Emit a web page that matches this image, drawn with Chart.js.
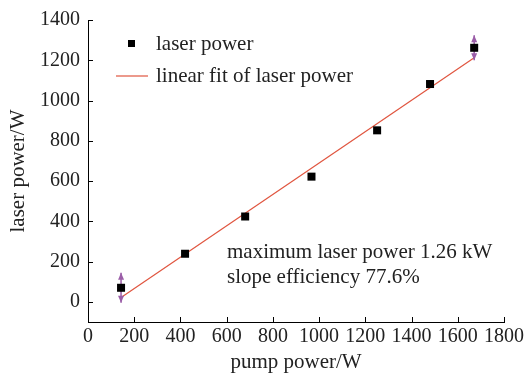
<!DOCTYPE html>
<html>
<head>
<meta charset="utf-8">
<script src="https://cdn.jsdelivr.net/npm/chart.js@4/dist/chart.umd.min.js"></script>
<style>
html,body{margin:0;padding:0;background:#fff;}
#wrap{width:528px;height:375px;position:relative;}
</style>
</head>
<body>
<div id="wrap"><canvas id="c" width="528" height="375"></canvas></div>
<script>
// ---- data ----
const pumpPower  = [143, 420, 680, 967, 1251, 1480, 1671];
const laserPower = [70, 239, 424, 622, 852, 1082, 1262];
const errPlus    = [75, 0, 0, 0, 0, 0, 62];
const errMinus   = [75, 0, 0, 0, 0, 0, 62];
const fitX = [143, 1671];
const fitY = [22, 1212];
const xTicks = [0, 200, 400, 600, 800, 1000, 1200, 1400, 1600, 1800];
const yTicks = [0, 200, 400, 600, 800, 1000, 1200, 1400];
const legendLabels = ['laser power', 'linear fit of laser power'];
const noteLines = ['maximum laser power 1.26 kW', 'slope efficiency 77.6%'];
const xTitle = 'pump power/W';
const yTitle = 'laser power/W';

const FONT = "'Liberation Serif', 'Times New Roman', serif";
const TXT = '#222';
const LINE_COLOR = '#e0553f';
const ERR_COLOR = '#9b5ea8';

const scatterData = pumpPower.map((x, i) => ({x: x, y: laserPower[i]}));
const fitData = fitX.map((x, i) => ({x: x, y: fitY[i]}));

const extras = {
  id: 'extras',
  afterDatasetsDraw(chart) {
    const ctx = chart.ctx;
    const xs = chart.scales.x, ys = chart.scales.y;
    const area = chart.chartArea;
    ctx.save();
    // axis ticks inward
    ctx.strokeStyle = '#000';
    ctx.lineWidth = 1;
    xTicks.forEach(v => {
      if (v === 0) return;
      const px = Math.round(xs.getPixelForValue(v)) + 0.5;
      ctx.beginPath(); ctx.moveTo(px, area.bottom); ctx.lineTo(px, area.bottom - 5); ctx.stroke();
    });
    yTicks.forEach(v => {
      const py = Math.round(ys.getPixelForValue(v)) + 0.5;
      ctx.beginPath(); ctx.moveTo(area.left, py); ctx.lineTo(area.left + 5, py); ctx.stroke();
    });
    // error bars with arrow heads
    ctx.strokeStyle = ERR_COLOR; ctx.fillStyle = ERR_COLOR; ctx.lineWidth = 1.5;
    pumpPower.forEach((x, i) => {
      if (!errPlus[i] && !errMinus[i]) return;
      const px = xs.getPixelForValue(x);
      const top = ys.getPixelForValue(laserPower[i] + errPlus[i]);
      const bot = ys.getPixelForValue(laserPower[i] - errMinus[i]);
      ctx.beginPath(); ctx.moveTo(px, top); ctx.lineTo(px, bot); ctx.stroke();
      ctx.beginPath(); ctx.moveTo(px, top); ctx.lineTo(px - 3, top + 7); ctx.lineTo(px + 3, top + 7); ctx.closePath(); ctx.fill();
      ctx.beginPath(); ctx.moveTo(px, bot); ctx.lineTo(px - 3, bot - 7); ctx.lineTo(px + 3, bot - 7); ctx.closePath(); ctx.fill();
    });
    // redraw markers on top of error bars
    ctx.fillStyle = '#000';
    pumpPower.forEach((x, i) => {
      const px = xs.getPixelForValue(x), py = ys.getPixelForValue(laserPower[i]);
      ctx.fillRect(px - 4, py - 4, 8, 8);
    });
    // legend
    ctx.fillStyle = '#000';
    ctx.fillRect(128, 40, 7, 7);
    ctx.strokeStyle = LINE_COLOR; ctx.lineWidth = 1.2;
    ctx.beginPath(); ctx.moveTo(116, 76); ctx.lineTo(148, 76); ctx.stroke();
    ctx.fillStyle = TXT;
    ctx.font = '21px ' + FONT;
    ctx.textBaseline = 'alphabetic';
    ctx.fillText(legendLabels[0], 156, 50);
    ctx.fillText(legendLabels[1], 156, 82);
    // annotation
    ctx.fillText(noteLines[0], 227, 258);
    ctx.fillText(noteLines[1], 227, 283);
    ctx.restore();
  }
};

new Chart(document.getElementById('c'), {
  type: 'scatter',
  data: {
    datasets: [
      {
        label: legendLabels[1],
        type: 'line',
        data: fitData,
        borderColor: LINE_COLOR,
        borderWidth: 1.2,
        pointRadius: 0,
        fill: false,
        order: 2
      },
      {
        label: legendLabels[0],
        data: scatterData,
        pointStyle: 'rect',
        pointRadius: 4,
        backgroundColor: '#000',
        borderColor: '#000',
        borderWidth: 0,
        order: 1
      }
    ]
  },
  options: {
    responsive: false,
    animation: false,
    layout: { padding: { top: 12, right: 24, left: 0, bottom: 0 } },
    plugins: { legend: { display: false }, tooltip: { enabled: false } },
    scales: {
      x: {
        type: 'linear', min: 0, max: 1800,
        afterBuildTicks: s => { s.ticks = xTicks.map(v => ({value: v})); },
        afterFit: s => { s.height = 53; },
        grid: { display: false, drawTicks: false },
        border: { display: true, color: '#000', width: 1 },
        ticks: { autoSkip: false, maxRotation: 0, padding: 3, color: TXT, font: { family: FONT, size: 20 }, callback: v => String(v) },
        title: { display: true, text: xTitle, color: TXT, font: { family: FONT, size: 21 }, padding: { top: 0, bottom: 0 } }
      },
      y: {
        type: 'linear', min: -100, max: 1400,
        afterBuildTicks: s => { s.ticks = yTicks.map(v => ({value: v})); },
        afterFit: s => { s.width = 88; },
        grid: { display: false, drawTicks: false },
        border: { display: true, color: '#000', width: 1 },
        ticks: { padding: 8, color: TXT, font: { family: FONT, size: 20 }, callback: v => String(v) },
        title: { display: true, text: yTitle, color: TXT, font: { family: FONT, size: 21 }, padding: { top: 6, bottom: 4 } }
      }
    }
  },
  plugins: [extras]
});
</script>
</body>
</html>
